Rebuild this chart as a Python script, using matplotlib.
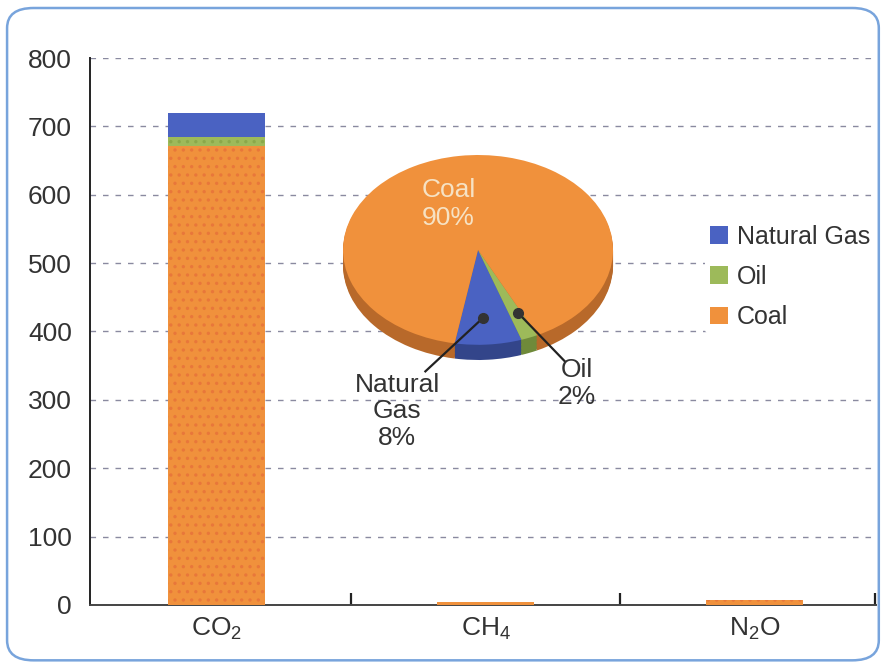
import matplotlib
matplotlib.use("Agg")
import matplotlib.pyplot as plt
from matplotlib.patches import FancyBboxPatch, Patch
import numpy as np

plt.rcParams['font.family'] = ['Liberation Sans', 'DejaVu Sans']
plt.rcParams['mathtext.fontset'] = 'custom'
plt.rcParams['mathtext.rm'] = 'Liberation Sans'
plt.rcParams['mathtext.it'] = 'Liberation Sans'
plt.rcParams['hatch.linewidth'] = 1.2

# emissions by gas, split by fuel
gases = ['CO$_2$', 'CH$_4$', 'N$_2$O']
coal = [672, 5, 7]
oil = [12, 0, 0]
natural_gas = [35, 0, 0]

# CO2 share by fuel (pie)
pie_labels = ['Natural Gas', 'Oil', 'Coal']
pie_pct = [8, 2, 90]

c_gas = '#4a62c2'
c_oil = '#9dba5a'
c_coal = '#f0913c'
dark = {'Natural Gas': '#33458a', 'Oil': '#6f8a3a', 'Coal': '#b8692a'}
txt = '#333333'
fs = 19

fig = plt.figure(figsize=(8.85, 6.67), dpi=100)
fig.patch.set_facecolor('white')

# rounded frame round the chart
frame = FancyBboxPatch((0.008, 0.01), 0.985, 0.978, boxstyle='round,pad=0,rounding_size=0.03',
                       transform=fig.transFigure, fill=False, edgecolor='#78a4dc', lw=1.8,
                       zorder=10)
fig.patches.append(frame)

ax = fig.add_axes([0.1017, 0.093, 0.888, 0.82])
x = np.arange(len(gases))
w = 0.36
bottom_oil = np.array(coal)
bottom_gas = bottom_oil + np.array(oil)
ax.bar(x, coal, w, color=c_coal, edgecolor='#e8773a', lw=0, hatch='..', zorder=3)
ax.bar(x, oil, w, bottom=bottom_oil, color=c_oil, edgecolor='#8aa84a', lw=0, hatch='..', zorder=3)
ax.bar(x, natural_gas, w, bottom=bottom_gas, color=c_gas, edgecolor=c_gas, lw=0, zorder=3)

ax.set_xlim(-0.47, 2.45)
ax.set_ylim(0, 800)
ax.set_yticks(range(0, 801, 100))
ax.set_xticks(x)
ax.set_xticklabels(gases, fontsize=fs, color=txt)
ax.set_xticks([0.5, 1.5, 2.445], minor=True)
ax.tick_params(axis='x', which='major', length=0, pad=8)
ax.tick_params(axis='x', which='minor', direction='in', length=9, width=1.6, color='#222222')
ax.tick_params(axis='y', labelsize=fs, labelcolor=txt, length=0, pad=13)
ax.yaxis.grid(True, ls=(0, (4, 5)), color='#8a8aa0', lw=1.0)
ax.set_axisbelow(True)
for s in ['top', 'right']:
    ax.spines[s].set_visible(False)
ax.spines['left'].set_color('#222222')
ax.spines['left'].set_linewidth(1.4)
ax.spines['bottom'].set_color('#444444')
ax.spines['bottom'].set_linewidth(1.4)

# pie drawn as a tilted disc
pax = fig.add_axes([0.3876, 0.4603, 0.3051, 0.3073])
depth = 0.16
cols = [c_gas, c_oil, c_coal]
side_cols = [dark[l] for l in pie_labels]
for k in np.linspace(depth, 0.0, 12)[:-1]:
    pax.pie(pie_pct, colors=side_cols, startangle=-100, center=(0, -k),
            wedgeprops=dict(lw=0))
pax.pie(pie_pct, colors=cols, startangle=-100, center=(0, 0), wedgeprops=dict(lw=0))
pax.set_aspect('auto')
pax.set_xlim(-1, 1)
pax.set_ylim(-1 - depth, 1)
pax.axis('off')

pax.text(-0.22, 0.48, 'Coal\n90%', ha='center', va='center', fontsize=fs,
         color='#f6e2c4', linespacing=1.2)

# leader lines with dot ends
pax.plot([0.037, -0.39], [-0.716, -1.28], color='#222222', lw=1.6, clip_on=False)
pax.plot([0.037], [-0.716], 'o', color='#333333', ms=7, clip_on=False)
pax.plot([0.296, 0.64], [-0.663, -1.17], color='#222222', lw=1.6, clip_on=False)
pax.plot([0.296], [-0.663], 'o', color='#333333', ms=7, clip_on=False)
pax.text(-0.6, -1.7, 'Natural\nGas\n8%', ha='center', va='center', fontsize=fs,
         color=txt, linespacing=1.12, clip_on=False)
pax.text(0.73, -1.41, 'Oil\n2%', ha='center', va='center', fontsize=fs,
         color=txt, linespacing=1.15, clip_on=False)

handles = [Patch(facecolor=c, edgecolor='none') for c in cols]
fig.legend(handles, pie_labels, loc='center left', bbox_to_anchor=(0.797, 0.585),
           frameon=True, facecolor='white', edgecolor='none', framealpha=1,
           fontsize=18, handlelength=0.7, handleheight=0.7, handletextpad=0.35,
           labelspacing=0.65, borderpad=0.2, borderaxespad=0, labelcolor=txt)

fig.savefig('out.png', dpi=100)
